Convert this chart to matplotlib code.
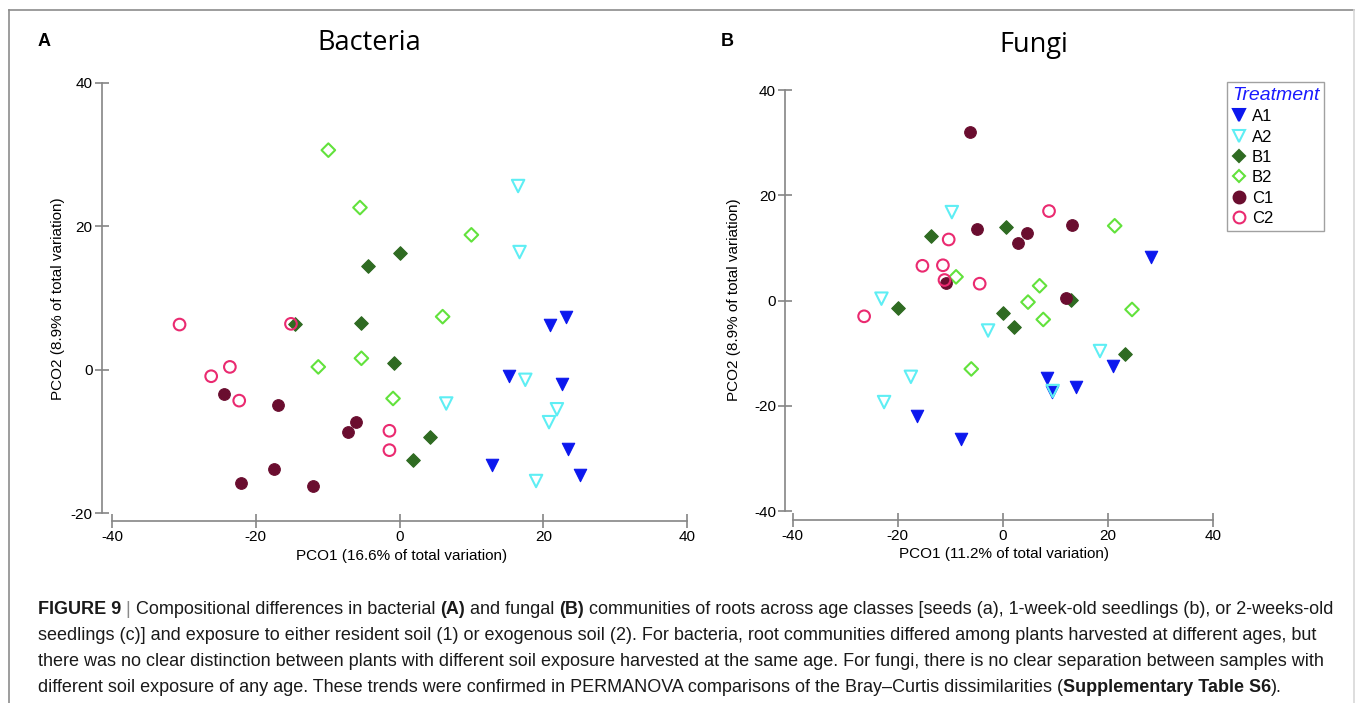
import matplotlib
matplotlib.use("Agg")
import matplotlib.pyplot as plt
from matplotlib.lines import Line2D

# ---- data ----
groups = ["A1", "A2", "B1", "B2", "C1", "C2"]

bac_x = {
    "A1": [20.9, 23.1, 15.2, 22.6, 23.5, 25.1, 12.8],
    "A2": [16.5, 16.7, 17.5, 6.5, 21.9, 20.8, 19.0],
    "B1": [0.1, -4.4, -14.5, -5.3, -0.7, 4.3, 1.9],
    "B2": [-9.9, -5.5, 10.0, 6.0, -5.3, -11.3, -0.9],
    "C1": [-24.4, -16.9, -6.0, -7.1, -17.5, -22.0, -12.1],
    "C2": [-30.6, -15.1, -23.6, -26.2, -22.3, -1.4, -1.4],
}
bac_y = {
    "A1": [6.2, 7.3, -0.9, -2.0, -11.0, -14.6, -13.3],
    "A2": [25.6, 16.4, -1.4, -4.7, -5.5, -7.3, -15.5],
    "B1": [16.2, 14.4, 6.4, 6.5, 0.9, -9.4, -12.6],
    "B2": [30.6, 22.6, 18.8, 7.4, 1.6, 0.4, -4.0],
    "C1": [-3.4, -4.9, -7.3, -8.7, -13.8, -15.8, -16.2],
    "C2": [6.3, 6.4, 0.4, -0.9, -4.3, -8.5, -11.2],
}

fun_x = {
    "A1": [28.2, 20.9, 13.9, 8.5, 9.3, -16.3, -8.0],
    "A2": [-9.7, -23.1, -2.8, -17.5, -22.6, 18.5, 9.5],
    "B1": [-13.7, 0.7, -20.0, 0.0, 2.2, 12.9, 23.3],
    "B2": [21.3, -8.9, 7.0, 4.8, 7.7, 24.6, -6.0],
    "C1": [-6.3, -4.9, 4.6, 2.8, 13.1, -10.9, 12.0],
    "C2": [8.8, -10.3, -15.3, -11.4, -11.1, -4.4, -26.4],
}
fun_y = {
    "A1": [8.2, -12.5, -16.5, -14.8, -17.4, -22.0, -26.4],
    "A2": [16.8, 0.35, -5.7, -14.5, -19.3, -9.6, -17.2],
    "B1": [12.3, 13.9, -1.4, -2.3, -5.1, 0.1, -10.1],
    "B2": [14.2, 4.5, 2.8, -0.3, -3.6, -1.7, -13.0],
    "C1": [32.0, 13.5, 12.9, 10.9, 14.3, 3.3, 0.4],
    "C2": [17.0, 11.6, 6.6, 6.7, 3.9, 3.2, -3.0],
}

xticks = [-40, -20, 0, 20, 40]
bac_yticks = [-20, 0, 20, 40]
fun_yticks = [-40, -20, 0, 20, 40]

# ---- styles ----
styles = {
    "A1": dict(marker="v", color="#0c18ee", filled=True, s=80),
    "A2": dict(marker="v", color="#5eeef4", filled=False, s=80),
    "B1": dict(marker="D", color="#2f6b22", filled=True, s=48),
    "B2": dict(marker="D", color="#62e23c", filled=False, s=48),
    "C1": dict(marker="o", color="#6a0d2f", filled=True, s=70),
    "C2": dict(marker="o", color="#ea2a70", filled=False, s=70),
}
axis_gray = "#858585"
sans = ["Liberation Sans", "DejaVu Sans"]
plt.rcParams["font.family"] = sans
plt.rcParams["axes.unicode_minus"] = False

fig = plt.figure(figsize=(13.55, 7.03), dpi=100)


def draw_panel(ax, xs, ys, xlim, ylim, yticks, xlabel, ylabel):
    for g in groups:
        st = styles[g]
        if st["filled"]:
            ax.scatter(xs[g], ys[g], marker=st["marker"], s=st["s"],
                       c=st["color"], edgecolors=st["color"], linewidths=0.8, zorder=3)
        else:
            ax.scatter(xs[g], ys[g], marker=st["marker"], s=st["s"],
                       facecolors="none", edgecolors=st["color"], linewidths=1.5, zorder=3)
    ax.set_xlim(*xlim)
    ax.set_ylim(*ylim)
    ax.set_xticks(xticks)
    ax.set_yticks(yticks)
    ax.spines["top"].set_visible(False)
    ax.spines["right"].set_visible(False)
    ax.spines["bottom"].set_bounds(xticks[0], xticks[-1])
    ax.spines["left"].set_bounds(yticks[0], yticks[-1])
    for sp in ("bottom", "left"):
        ax.spines[sp].set_color(axis_gray)
        ax.spines[sp].set_linewidth(1.2)
    ax.tick_params(direction="inout", length=10, width=1.2, color=axis_gray,
                   labelsize=11, pad=1.5)
    ax.set_xlabel(xlabel, fontsize=11)
    ax.set_ylabel(ylabel, fontsize=11)
    ax.xaxis.set_label_coords(0.5, -0.062)
    ax.yaxis.set_label_coords(-0.062, 0.5)
    ax.patch.set_visible(False)


axA = fig.add_axes([0.07506, 0.2589, 0.44258, 0.6337])
draw_panel(axA, bac_x, bac_y, (-41.43, 42), (-21.07, 41), bac_yticks,
           "PCO1 (16.6% of total variation)", "PCO2 (8.9% of total variation)")

axB = fig.add_axes([0.5793, 0.2603, 0.3236, 0.6266])
draw_panel(axB, fun_x, fun_y, (-41.47, 42), (-41.71, 42), fun_yticks,
           "PCO1 (11.2% of total variation)", "PCO2 (8.9% of total variation)")
axB.yaxis.set_label_coords(-0.1, 0.5)

# legend
handles = []
for g in groups:
    st = styles[g]
    handles.append(Line2D([], [], linestyle="none", marker=st["marker"],
                          markersize=8.5 if st["marker"] != "D" else 6.5,
                          markerfacecolor=st["color"] if st["filled"] else "none",
                          markeredgecolor=st["color"], markeredgewidth=1.5))
leg = fig.legend(handles, groups, loc="upper left",
                 bbox_to_anchor=(0.9055, 0.8834), bbox_transform=fig.transFigure,
                 borderaxespad=0, fancybox=False, edgecolor="#8a8a8a",
                 title="Treatment", fontsize=12, handlelength=0.8,
                 handletextpad=0.4, labelspacing=0.32, borderpad=0.3,
                 alignment="left")
leg.get_frame().set_linewidth(1.0)
leg.get_title().set_color("#1a1aff")
leg.get_title().set_fontstyle("italic")
leg.get_title().set_fontsize(14)

# titles and panel letters
fig.text(44 / 1355, 1 - 42 / 703, "A", fontsize=13, fontweight="bold", ha="center", va="center")
fig.text(727 / 1355, 1 - 42 / 703, "B", fontsize=13, fontweight="bold", ha="center", va="center")
fig.text(369 / 1355, 1 - 43 / 703, "Bacteria", fontsize=19.5, family=["Open Sans", "DejaVu Sans"],
         ha="center", va="center")
fig.text(1034 / 1355, 1 - 45 / 703, "Fungi", fontsize=19.5, family=["Open Sans", "DejaVu Sans"],
         ha="center", va="center")

# outer frame
fig.add_artist(Line2D([9 / 1355, 1354 / 1355], [1 - 9.5 / 703] * 2, color="#8c8c8c", lw=1.2))
fig.add_artist(Line2D([9 / 1355] * 2, [0, 1 - 9.5 / 703], color="#8c8c8c", lw=1.2))
fig.add_artist(Line2D([1353.5 / 1355] * 2, [0, 1 - 9.5 / 703], color="#d8d8d8", lw=1.2))

# caption
caption = [
    [("FIGURE 9", True), (" | ", False),
     ("Compositional differences in bacterial ", False), ("(A)", True),
     (" and fungal ", False), ("(B)", True),
     (" communities of roots across age classes [seeds (a), 1-week-old seedlings (b), or 2-weeks-old", False)],
    [("seedlings (c)] and exposure to either resident soil (1) or exogenous soil (2). For bacteria, root communities differed among plants harvested at different ages, but", False)],
    [("there was no clear distinction between plants with different soil exposure harvested at the same age. For fungi, there is no clear separation between samples with", False)],
    [("different soil exposure of any age. These trends were confirmed in PERMANOVA comparisons of the Bray\u2013Curtis dissimilarities (", False),
     ("Supplementary Table S6", True), (").", False)],
]
cap_y = [610, 636, 662, 688]
cap_family = ["Liberation Sans", "DejaVu Sans"]
renderer = fig.canvas.get_renderer()
for line, py in zip(caption, cap_y):
    px = 38
    for txt, bold in line:
        t = fig.text(px / 1355, 1 - py / 703, txt, fontsize=13.0, family=cap_family,
                     fontweight="bold" if bold else "normal",
                     color="#8a8a8a" if txt == " | " else "#1a1a1a",
                     ha="left", va="center")
        bb = t.get_window_extent(renderer)
        px += bb.width

fig.savefig("out.png", dpi=100)
